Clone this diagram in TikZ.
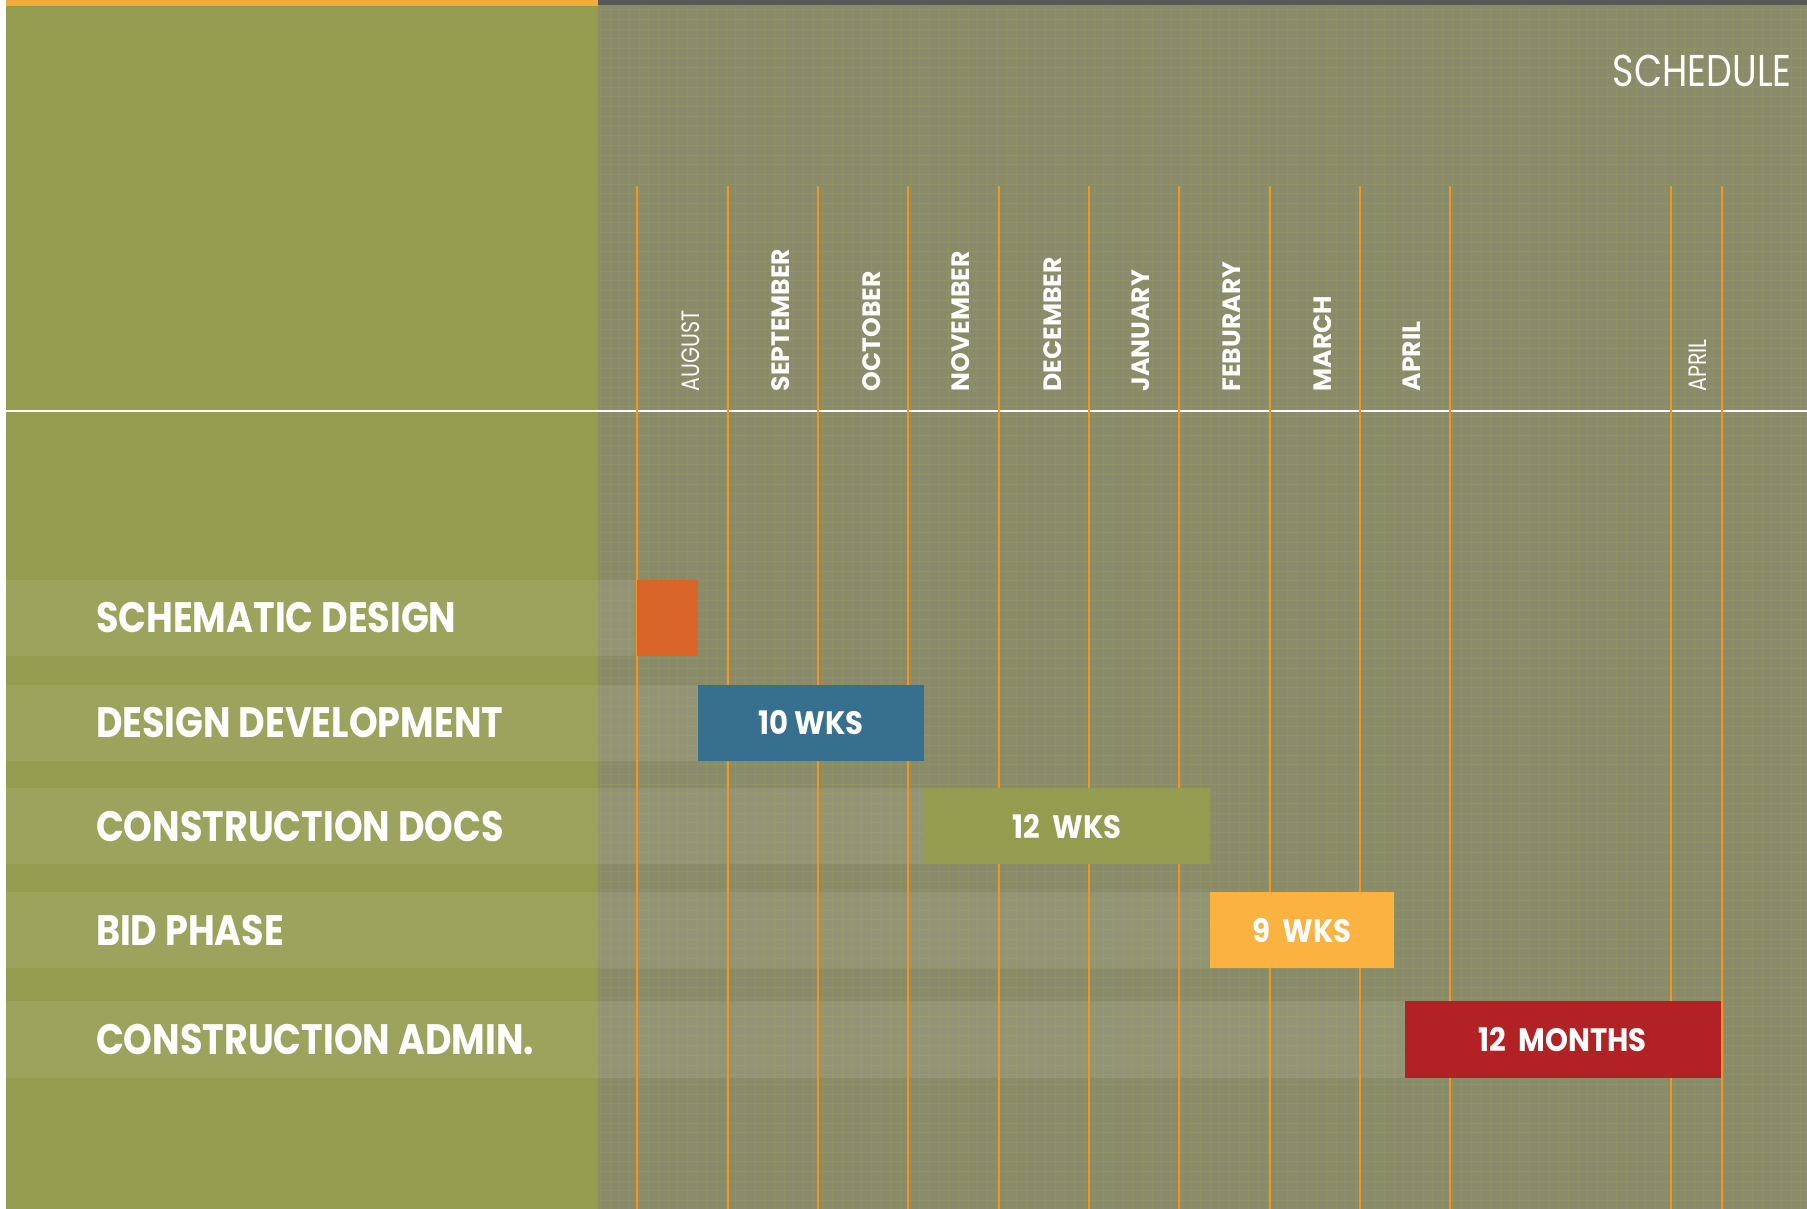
\documentclass[tikz,border=0pt]{standalone}
\usepackage{fontspec}
\setmainfont{Poppins}
\newfontfamily\condfont[FakeStretch=0.82]{Poppins}
\newfontfamily\phasefont[FakeStretch=0.86]{Poppins}
\newfontfamily\weeksfont[FakeStretch=0.9]{Poppins}
\usetikzlibrary{positioning}

\definecolor{panelgreen}{RGB}{148,156,79}
\definecolor{panelgrey}{RGB}{137,139,106}
\definecolor{gridgreen}{RGB}{142,147,98}
\definecolor{monthorange}{RGB}{247,148,29}
\definecolor{striporange}{RGB}{240,172,62}
\definecolor{stripdark}{RGB}{88,88,88}
\definecolor{sdorange}{RGB}{217,101,40}
\definecolor{ddblue}{RGB}{55,111,142}
\definecolor{cdgreen}{RGB}{148,156,79}
\definecolor{bidyellow}{RGB}{251,178,64}
\definecolor{cared}{RGB}{178,34,36}

\tikzset{
	phase/.style={anchor=west, text=white, inner sep=0pt, font=\phasefont\bfseries\fontsize{21}{21}\selectfont},
	weeks/.style={text=white, inner sep=0pt, font=\weeksfont\bfseries\fontsize{16}{16}\selectfont},
	month/.style={rotate=90, anchor=west, text=white, inner sep=0pt, font=\bfseries\fontsize{12.4}{12.4}\selectfont},
	monththin/.style={month, font=\condfont\fontsize{12.4}{12.4}\selectfont},
	band/.style={fill=white, fill opacity=0.08},
	monthline/.style={draw=monthorange, line width=1pt},
}

\begin{document}
\begin{tikzpicture}[x=0.2mm, y=-0.2mm]
		\useasboundingbox (0,0) rectangle (1568,1049);
		\fill[white] (0,0) rectangle (1568,1049);
		\fill[panelgreen] (5,0) rectangle (519,1049);
		\fill[panelgrey] (519,0) rectangle (1568,1049);
		\draw[gridgreen, line width=0.35pt, step=1.68mm] (519,5) grid (1568,1049);
		\fill[striporange] (5,0) rectangle (519,5);
		\fill[stripdark] (519,0) rectangle (1568,4);
		
		\fill[band] (5,503) rectangle (553,569);
		\fill[band] (5,594) rectangle (606,660);
		\fill[band] (5,684) rectangle (802,750);
		\fill[band] (5,774) rectangle (1050,840);
		\fill[band] (5,869) rectangle (1219,935);
		
		\draw[white, line width=1pt] (5,357) -- (1568,357);
		\foreach \x in {553,632,710,788,867,945,1023,1102,1180,1258,1450,1494}
			\draw[monthline] (\x,161) -- (\x,1049);
		
		\fill[sdorange] (553,503) rectangle (606,569);
		\fill[ddblue] (606,594) rectangle (802,660);
		\fill[cdgreen] (802,684) rectangle (1050,750);
		\fill[bidyellow] (1050,774) rectangle (1210,840);
		\fill[cared] (1219,869) rectangle (1493,935);
		
		\node[anchor=base east, text=white, inner sep=0pt, font=\condfont\fontsize{22}{22}\selectfont] (schedule) at (1555,75) {SCHEDULE};
		
		\foreach \x/\m/\s in {599/AUGUST/monththin, 677/SEPTEMBER/month, 756/OCTOBER/month, 834/NOVEMBER/month, 913/DECEMBER/month, 990/JANUARY/month, 1069/FEBURARY/month, 1148/MARCH/month, 1225/APRIL/month, 1473/APRIL/monththin}
			\node[\s] (m\x) at (\x,340) {\m};
		
		\node[phase] (sd) at (83,536) {SCHEMATIC DESIGN};
		\node[phase] (dd) at (83,627) {DESIGN DEVELOPMENT};
		\node[phase] (cd) at (83,717) {CONSTRUCTION DOCS};
		\node[phase] (bid) at (83,807) {BID PHASE};
		\node[phase] (ca) at (83,902) {CONSTRUCTION ADMIN.};
		
		\node[weeks] (ddwks) at (704,627) {10 WKS};
		\node[weeks] (cdwks) at (926,717) {12\ \ WKS};
		\node[weeks] (bidwks) at (1130,807) {9\ \ WKS};
		\node[weeks] (camonths) at (1356,902) {12\ \ MONTHS};
\end{tikzpicture}
\end{document}
